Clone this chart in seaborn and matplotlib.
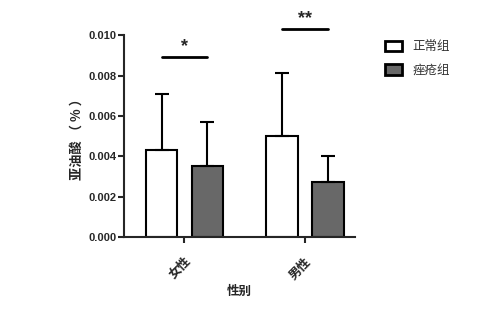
import matplotlib
matplotlib.use("Agg")
import matplotlib.pyplot as plt
import seaborn as sns
import pandas as pd

sexes = ["女性", "男性"]
groups = ["正常组", "痤疮组"]
means = {"正常组": [0.0043, 0.0050], "痤疮组": [0.0035, 0.0027]}
sds = {"正常组": [0.0028, 0.0031], "痤疮组": [0.0022, 0.0013]}
sig_labels = ["*", "**"]
sig_heights = [0.0089, 0.0103]
yticks = [0.000, 0.002, 0.004, 0.006, 0.008, 0.010]

sns.set_style("ticks")
plt.rcParams['font.family'] = ['Noto Sans CJK SC', 'DejaVu Sans']

rows = []
for g in groups:
    for s, m in zip(sexes, means[g]):
        rows.append({"sex": s, "group": g, "value": m})
df = pd.DataFrame(rows)

fig = plt.figure(figsize=(4.93, 3.11), dpi=100)
ax = fig.add_axes([0.2515, 0.238, 0.4685, 0.649])

palette = {"正常组": "white", "痤疮组": "#686868"}
sns.barplot(data=df, x="sex", y="value", hue="group", order=sexes,
            hue_order=groups, palette=palette, width=0.76, gap=0.316,
            errorbar=None, edgecolor="black", linewidth=1.5, ax=ax,
            saturation=1)

# error bars (upper only)
centers = {}
for cont, g in zip(ax.containers, groups):
    xs = [p.get_x() + p.get_width() / 2 for p in cont.patches]
    hs = [p.get_height() for p in cont.patches]
    centers[g] = xs
    ax.errorbar(xs, hs, yerr=[[0] * len(xs), sds[g]], fmt="none",
                ecolor="black", elinewidth=1.5, capsize=5, capthick=1.5,
                zorder=1)

# significance lines
for i, (lab, h) in enumerate(zip(sig_labels, sig_heights)):
    x0 = centers[groups[0]][i]
    x1 = centers[groups[1]][i]
    ax.plot([x0, x1], [h, h], color="black", lw=2, clip_on=False)
    ax.text((x0 + x1) / 2, h + 0.0001, lab, ha="center", va="bottom",
            fontsize=13, fontweight="bold", clip_on=False,
            family=['Liberation Sans'])

ax.set_ylim(0, 0.010)
ax.set_xlim(-0.502, 1.415)
ax.set_yticks(yticks)
ax.set_yticklabels([f"{v:.3f}" for v in yticks], fontsize=8,
                   fontweight="bold", family=['Liberation Sans'])
ax.set_xticks(range(len(sexes)))
ax.set_xticklabels(sexes, rotation=45, ha="right", rotation_mode="anchor",
                   fontsize=9, fontweight="bold")
ax.set_ylabel("亚油酸 （ % ）", fontsize=9.5, fontweight="bold", labelpad=3)
ax.set_xlabel("性别", fontsize=9, fontweight="bold", labelpad=2)

for sp in ["top", "right"]:
    ax.spines[sp].set_visible(False)
for sp in ["left", "bottom"]:
    ax.spines[sp].set_linewidth(1.5)
ax.tick_params(axis="both", width=1.5, length=4, pad=1.5)
ax.tick_params(axis="x", pad=9)

leg = ax.legend(loc="upper left", bbox_to_anchor=(1.08, 1.03), frameon=False,
                prop={"size": 9}, handlelength=1.4,
                handleheight=0.9, labelspacing=0.85)
for t in leg.get_texts():
    t.set_color("#333333")
for h in leg.legend_handles:
    h.set_linewidth(2)
    h.set_edgecolor("black")

fig.savefig("out.png", dpi=100, facecolor="white")
